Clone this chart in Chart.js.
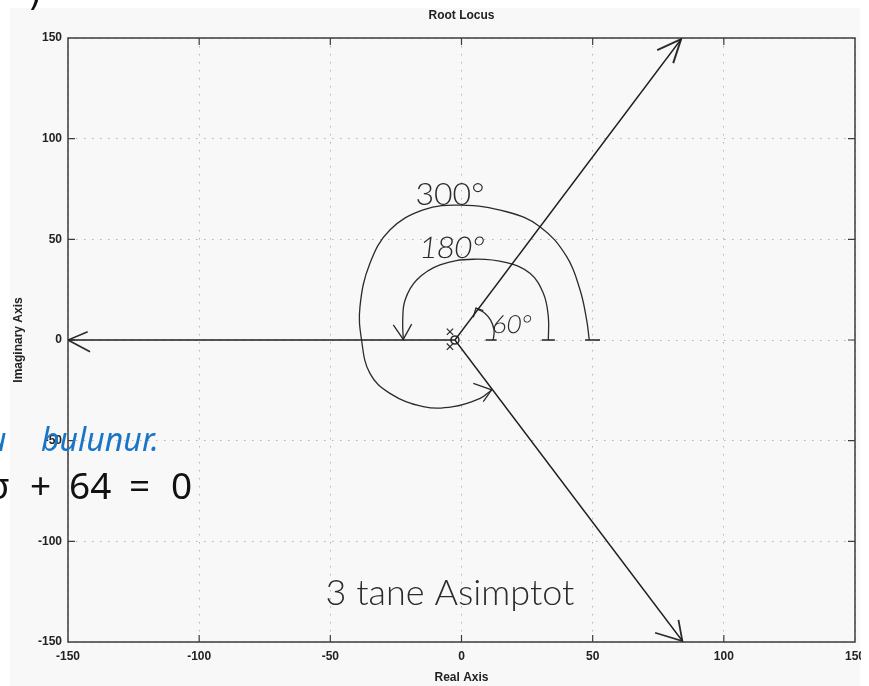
<!DOCTYPE html>
<html lang="tr">
<head>
<meta charset="UTF-8">
<title>Root Locus</title>
<script src="https://cdn.jsdelivr.net/npm/chart.js"></script>
<style>
  html, body { margin: 0; padding: 0; background: #fff; }
  #wrap { position: relative; width: 869px; height: 686px; overflow: hidden; }
  #scan { position: absolute; left: 10px; top: 8px; width: 850px; height: 678px; background: #f8f8f8; }
  #chart { position: absolute; left: 0; top: 0; }
  #edge { position: absolute; left: 861px; top: 0; width: 8px; height: 686px; background: #fff; }
  .over { position: absolute; white-space: pre; line-height: 1; }
  .blue { font: italic 32px "Noto Sans", sans-serif; color: #1976c6; }
  .math { font: 37px "Noto Sans", sans-serif; color: #111; }
</style>
</head>
<body>
<div id="wrap">
  <div id="scan"></div>
  <canvas id="chart" width="869" height="686"></canvas>
  <div id="edge"></div>
  <span class="over" style="left:28px; top:-28px; font: 36px 'DejaVu Sans'; color:#111;">)</span>
  <span class="over blue" style="left:-12px; top:417px;">u</span>
  <span class="over blue" style="left:41px; top:417px;">bulunur.</span>
  <span class="over math" style="left:-13px; top:459px;">σ</span>
  <span class="over math" style="left:30px; top:459px;">+</span>
  <span class="over math" style="left:69px; top:459px;">64</span>
  <span class="over math" style="left:129px; top:459px;">=</span>
  <span class="over math" style="left:171px; top:459px;">0</span>
</div>

<script>
    // axis range (real / imaginary)
    const AXIS_MIN = -150;
    const AXIS_MAX = 150;
    const AXIS_STEP = 50;

    // asymptotes leave from the centroid
    const centroidX = -2.5;
    const centroidY = 0;
    const asymEndX = [83.7, 84.2, -150];
    const asymEndY = [149.4, -149.5, 0];

    // arrow heads at the ends of the asymptotes: [stroke, tip, stroke]
    const headUpX = [74.6, 83.7, 80.7];
    const headUpY = [144, 149.4, 137.5];
    const headDownX = [73.8, 84.2, 82.7];
    const headDownY = [-145.4, -149.5, -139];
    const headLeftX = [-142.5, -150, -141.6];
    const headLeftY = [4.1, 0, -5.8];

    // open loop poles and zero near the origin
    const poleX = [-4.4, -4.4];
    const poleY = [4.1, -3.3];
    const zeroX = [-2.5];
    const zeroY = [0];

    // hand drawn angle arcs
    const arc60X = [12.1, 12.4, 11.1, 9.0, 6.4, 5.5];
    const arc60Y = [0, 5.0, 9.9, 13.2, 15.2, 15.9];
    const arc60HeadX = [4.5, 5.5, 8.3];
    const arc60HeadY = [11.3, 15.9, 14.6];

    const arc180X = [33.1, 33.1, 31.2, 26.1, 17.2, 4.5, -8.2, -17.1, -21.5, -22.4, -22.2];
    const arc180Y = [0, 11.6, 23.2, 33.1, 38.4, 40.1, 37.3, 29.8, 19.9, 9.9, 0.3];
    const arc180HeadX = [-26, -22.2, -19];
    const arc180HeadY = [7.5, 0.3, 7.9];

    const arc300X = [48.7, 47.7, 45.2, 40.1, 29.9, 17.2, -0.3, -14.6, -27.3, -34.9, -38.7, -38.1, -34.9, -27.3, -14.6, -3.1, 7.1, 11.5];
    const arc300Y = [0, 10, 24.8, 41.4, 56.3, 63.7, 67, 64.6, 54.6, 38.1, 16.6, 0, -16.6, -26.5, -33.1, -33.1, -29, -24.8];
    const arc300HeadX = [4.5, 11.5, 8.3];
    const arc300HeadY = [-21.5, -24.8, -30.6];

    // little starting marks on the real axis
    const markX = [[9.2, 13.4], [30.6, 35.6], [47.1, 52.8]];

    // handwritten notes
    const noteText = ["300°", "180°", "60°", "3 tane Asimptot"];
    const noteX = [-4.4, -4.0, 18.9, -4.4];
    const noteY = [67.1, 40.7, 3.5, -131.6];
    const noteSize = [32, 30, 25, 36];
    const noteTilt = [0, -0.12, -0.12, 0];

    const INK = "#2b2b2b";
    const TICK_FONT = { family: "Liberation Sans", size: 12, weight: "bold" };

    function zip(xs, ys) {
        return xs.map((x, i) => ({ x: x, y: ys[i] }));
    }

    function stroke(xs, ys, extra) {
        return Object.assign({
            data: zip(xs, ys),
            showLine: true,
            borderColor: INK,
            borderWidth: 1.3,
            pointRadius: 0,
            fill: false,
            tension: 0
        }, extra || {});
    }

    const datasets = [];
    asymEndX.forEach((x, i) => {
        datasets.push(stroke([centroidX, x], [centroidY, asymEndY[i]], { borderColor: "#1e1e1e", borderWidth: 1.4 }));
    });
    datasets.push(stroke(headUpX, headUpY, { borderWidth: 2 }));
    datasets.push(stroke(headDownX, headDownY, { borderWidth: 1.8 }));
    datasets.push(stroke(headLeftX, headLeftY, { borderWidth: 1.6 }));
    datasets.push(stroke(arc60X, arc60Y, { tension: 0.4 }));
    datasets.push(stroke(arc60HeadX, arc60HeadY));
    datasets.push(stroke(arc180X, arc180Y, { tension: 0.4 }));
    datasets.push(stroke(arc180HeadX, arc180HeadY));
    datasets.push(stroke(arc300X, arc300Y, { tension: 0.4 }));
    datasets.push(stroke(arc300HeadX, arc300HeadY));
    markX.forEach(m => datasets.push(stroke(m, [0, 0], { borderWidth: 1.6 })));
    datasets.push({
        data: zip(poleX, poleY), showLine: false, pointStyle: "crossRot",
        pointRadius: 4.5, borderColor: INK, borderWidth: 1.2
    });
    datasets.push({
        data: zip(zeroX, zeroY), showLine: false, pointStyle: "circle",
        pointRadius: 4, borderColor: INK, borderWidth: 1.6, backgroundColor: "rgba(0,0,0,0)"
    });

    // MATLAB style box with inner ticks, handwritten notes
    const paperPlugin = {
        id: "paper",
        beforeDatasetsDraw(chart) {
            const { ctx, chartArea: a, scales } = chart;
            ctx.save();
            ctx.strokeStyle = "#3c3c3c";
            ctx.lineWidth = 1.5;
            ctx.strokeRect(a.left, a.top, a.right - a.left, a.bottom - a.top);
            ctx.lineWidth = 1.2;
            ctx.beginPath();
            for (let v = AXIS_MIN + AXIS_STEP; v < AXIS_MAX; v += AXIS_STEP) {
                const px = scales.x.getPixelForValue(v);
                ctx.moveTo(px, a.bottom); ctx.lineTo(px, a.bottom - 7);
                ctx.moveTo(px, a.top); ctx.lineTo(px, a.top + 7);
                const py = scales.y.getPixelForValue(v);
                ctx.moveTo(a.left, py); ctx.lineTo(a.left + 7, py);
                ctx.moveTo(a.right, py); ctx.lineTo(a.right - 7, py);
            }
            ctx.stroke();
            ctx.restore();
        },
        afterDatasetsDraw(chart) {
            const { ctx, scales } = chart;
            ctx.save();
            ctx.fillStyle = INK;
            ctx.textAlign = "center";
            ctx.textBaseline = "alphabetic";
            noteText.forEach((t, i) => {
                const px = scales.x.getPixelForValue(noteX[i]);
                const py = scales.y.getPixelForValue(noteY[i]);
                ctx.save();
                ctx.translate(px, py);
                ctx.transform(1, 0, noteTilt[i], 1, 0, 0);
                ctx.font = "300 " + noteSize[i] + "px Lato";
                ctx.fillText(t, 0, 0);
                ctx.restore();
            });
            ctx.restore();
        }
    };

    const ctx = document.getElementById("chart").getContext("2d");
    new Chart(ctx, {
        type: "scatter",
        data: { datasets: datasets },
        plugins: [paperPlugin],
        options: {
            responsive: false,
            animation: false,
            layout: { padding: 0, autoPadding: false },
            plugins: { legend: { display: false }, tooltip: { enabled: false }, title: { display: false } },
            scales: {
                x: {
                    type: "linear", position: "bottom", min: AXIS_MIN, max: AXIS_MAX,
                    ticks: { stepSize: AXIS_STEP, padding: 7, color: "#222", font: TICK_FONT },
                    grid: { color: "#b4b4b4", lineWidth: 1, drawTicks: false },
                    border: { display: false, dash: [1.5, 6.5] },
                    title: { display: true, text: "Real Axis", color: "#222", font: TICK_FONT, padding: { top: 0, bottom: 1 } },
                    afterFit: s => { s.height = 44; s.paddingLeft = 0; s.paddingRight = 0; }
                },
                y: {
                    type: "linear", position: "left", min: AXIS_MIN, max: AXIS_MAX,
                    ticks: { stepSize: AXIS_STEP, padding: 6, color: "#222", font: TICK_FONT },
                    grid: { color: "#b4b4b4", lineWidth: 1, drawTicks: false },
                    border: { display: false, dash: [1.5, 6.5] },
                    title: { display: true, text: "Imaginary Axis", color: "#222", font: TICK_FONT, padding: { top: 11, bottom: 0 } },
                    afterFit: s => { s.width = 68; s.paddingTop = 0; s.paddingBottom = 0; }
                },
                xTop: {
                    type: "linear", position: "top", min: AXIS_MIN, max: AXIS_MAX,
                    ticks: { display: false }, grid: { display: false }, border: { display: false },
                    title: { display: true, text: "Root Locus", color: "#222", font: TICK_FONT, padding: { top: 8, bottom: 0 } },
                    afterFit: s => { s.height = 38; s.paddingLeft = 0; s.paddingRight = 0; }
                },
                yRight: {
                    type: "linear", position: "right", min: AXIS_MIN, max: AXIS_MAX,
                    ticks: { display: false }, grid: { display: false }, border: { display: false },
                    afterFit: s => { s.width = 14; s.paddingTop = 0; s.paddingBottom = 0; }
                }
            }
        }
    });
</script>
</body>
</html>
